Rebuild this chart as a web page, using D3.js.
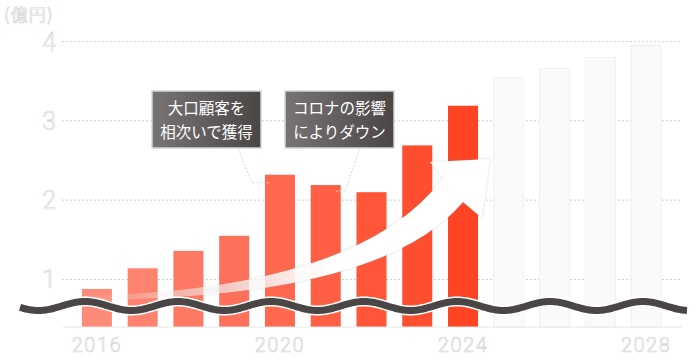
<!DOCTYPE html>
<html>
<head>
<meta charset="utf-8">
<script src="https://cdn.jsdelivr.net/npm/d3@7"></script>
<style>
  body { margin: 0; background: #fff; }
  svg { display: block; }
</style>
</head>
<body>
<div id="chart"></div>
<script>
// data
var years = ["2016","2017","2018","2019","2020","2021","2022","2023","2024","2025","2026","2027","2028"]
var values = [0.88, 1.14, 1.36, 1.55, 2.32, 2.19, 2.10, 2.69, 3.19, 3.54, 3.66, 3.80, 3.95]
var forecastYears = ["2025","2026","2027","2028"]
var yTicks = [1, 2, 3, 4]
var xTickLabels = ["2016","2020","2024","2028"]
var unitLabel = "(億円)"
var notes = [
  { year: "2020", lines: ["大口顧客を", "相次いで獲得"] },
  { year: "2021", lines: ["コロナの影響", "によりダウン"] }
]

var width = 700, height = 360
var svg = d3.select("#chart").append("svg")
  .attr("width", width).attr("height", height)

var defs = svg.append("defs")

// axis is cut below 1 (wave marks the break)
var x = d3.scaleBand().domain(years).range([74, 669])
  .paddingInner(0.344).paddingOuter(0.172)
var y = d3.scaleLinear().domain([0.4, 4]).range([327, 41.5])

var color = d3.scaleLinear().domain([0, 8]).range(["#fe8b78", "#ff4424"])

// hollow light labels
function hollow(sel) {
  sel.attr("fill", "#fcfcfc").attr("stroke", "#d4d4d4").attr("stroke-width", 0.6)
}

// gridlines
svg.append("g").selectAll("line").data(yTicks).enter().append("line")
  .attr("x1", 62).attr("x2", 682)
  .attr("y1", function(d) { return y(d) }).attr("y2", function(d) { return y(d) })
  .attr("stroke", "#cfcfcf").attr("stroke-dasharray", "2,2")

// y labels
svg.append("g").selectAll("text").data(yTicks).enter().append("text")
  .attr("x", 56).attr("y", function(d) { return y(d) })
  .attr("dy", "0.36em").attr("text-anchor", "end")
  .style("font-family", "Roboto").style("font-weight", 300).style("font-size", "25px")
  .call(hollow)
  .text(function(d) { return d })

svg.append("text").attr("x", 4).attr("y", 21)
  .style("font-family", "Noto Sans CJK JP").style("font-size", "17px")
  .style("letter-spacing", "1px")
  .call(hollow)
  .text(unitLabel)

// bars
svg.append("g").selectAll("rect").data(years).enter().append("rect")
  .attr("x", function(d) { return x(d) })
  .attr("width", x.bandwidth())
  .attr("y", function(d, i) { return y(values[i]) })
  .attr("height", function(d, i) { return y(0.4) - y(values[i]) })
  .attr("fill", function(d, i) { return forecastYears.indexOf(d) >= 0 ? "#fafafa" : color(i) })
  .attr("stroke", function(d) { return forecastYears.indexOf(d) >= 0 ? "#f0f0f0" : "none" })

// baseline
svg.append("line").attr("x1", 63).attr("x2", 682)
  .attr("y1", y(0.4)).attr("y2", y(0.4))
  .attr("stroke", "#e6e6e6")

// x labels
svg.append("g").selectAll("text").data(xTickLabels).enter().append("text")
  .attr("x", function(d) { return x(d) + x.bandwidth() / 2 })
  .attr("y", 352).attr("text-anchor", "middle")
  .style("font-family", "Roboto").style("font-weight", 300).style("font-size", "20px")
  .style("letter-spacing", "1.5px")
  .call(hollow)
  .text(function(d) { return d })

// leader lines
function topOf(yr) { return y(values[years.indexOf(yr)]) }
var leaders = [
  [[238, 148], [252, topOf("2020") + 8], [x("2020") + 4, topOf("2020") + 8]],
  [[360, 148], [345, topOf("2021") + 6], [x("2021") + 24, topOf("2021") + 6]]
]
svg.append("g").selectAll("path").data(leaders).enter().append("path")
  .attr("d", d3.line())
  .attr("fill", "none").attr("stroke", "#d8d8d8").attr("stroke-width", 1)
  .attr("stroke-dasharray", "2,1.5")

// growth arrow
var grad = defs.append("linearGradient").attr("id", "arrowGrad")
  .attr("gradientUnits", "userSpaceOnUse").attr("x1", 80).attr("x2", 330).attr("y1", 0).attr("y2", 0)
grad.append("stop").attr("offset", 0).attr("stop-color", "#fff").attr("stop-opacity", 0)
grad.append("stop").attr("offset", 1).attr("stop-color", "#fff").attr("stop-opacity", 1)

var shadow = defs.append("filter").attr("id", "shadow")
  .attr("x", "-10%").attr("y", "-10%").attr("width", "120%").attr("height", "120%")
shadow.append("feDropShadow").attr("dx", 0).attr("dy", 0).attr("stdDeviation", 1.2)
  .attr("flood-color", "#888").attr("flood-opacity", 0.45)

var arrow = svg.append("g").attr("filter", "url(#shadow)")
arrow.append("path")
  .attr("d", "M80,296 Q360,290 443,178 L430,162 L490,159 L482,218 L463,202 Q380,300 80,300 Z")
  .attr("fill", "url(#arrowGrad)")

// break wave
var wave = d3.range(20, 687.5, 1).map(function(px) {
  return [px, 306 - 4.5 * Math.cos(2 * Math.PI * (px - 85) / 93)]
})
svg.append("path").attr("d", d3.line()(wave))
  .attr("fill", "none").attr("stroke", "#fff").attr("stroke-width", 10).attr("stroke-linecap", "round")
svg.append("path").attr("d", d3.line()(wave))
  .attr("fill", "none").attr("stroke", "#4a4646").attr("stroke-width", 7)

// callout boxes
var boxGrad = defs.append("linearGradient").attr("id", "boxGrad")
boxGrad.append("stop").attr("offset", 0).attr("stop-color", "#787474")
boxGrad.append("stop").attr("offset", 1).attr("stop-color", "#4a4646")

var boxX = [152, 285]
var box = svg.selectAll(".note").data(notes).enter().append("g")
  .attr("class", "note")
  .attr("transform", function(d, i) { return "translate(" + boxX[i] + ",91)" })
box.append("rect").attr("width", 109).attr("height", 57)
  .attr("fill", "url(#boxGrad)").attr("stroke", "#d6d6d6").attr("stroke-width", 1.5)
box.selectAll("text").data(function(d) { return d.lines }).enter().append("text")
  .attr("x", 54.5).attr("y", function(d, i) { return 23 + i * 24 })
  .attr("text-anchor", "middle")
  .style("font-family", "Noto Sans CJK JP").style("font-size", "15.5px")
  .attr("fill", "#fff")
  .text(function(d) { return d })
</script>
</body>
</html>
